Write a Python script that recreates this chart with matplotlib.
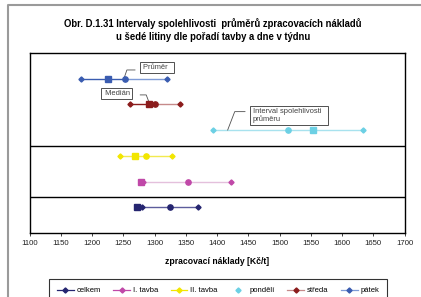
import matplotlib
matplotlib.use("Agg")
import matplotlib.pyplot as plt
from matplotlib.lines import Line2D

plt.rcParams['font.family'] = ['Liberation Sans', 'DejaVu Sans']

# ---- data ----
series = ["celkem", "I. tavba", "II. tavba", "pondělí", "středa", "pátek"]
rows = [1, 2, 3, 4, 5, 6]
lower = [1280, 1282, 1245, 1393, 1261, 1183]
mean = [1325, 1353, 1286, 1514, 1300, 1252]
median = [1272, 1279, 1268, 1554, 1291, 1226]
upper = [1370, 1423, 1328, 1633, 1341, 1320]
xticks = list(range(1100, 1701, 50))
separators = [1.4, 3.4]

# ---- style ----
mk_col = ["#252570", "#c048a8", "#f2e600", "#6cd0e4", "#8b1c1c", "#3a5cb0"]
ln_lo = ["#5c5c9c", "#e4c0dc", "#f2ea50", "#a8e2ee", "#8b1c1c", "#3a5cb0"]
ln_hi = ["#5c5c9c", "#e4c0dc", "#f2ea50", "#a8e2ee", "#c68a8a", "#7f9bd6"]

fig = plt.figure(figsize=(4.21, 2.97), dpi=100)
ax = fig.add_axes([29.5 / 421, 1 - 233 / 297, 375 / 421, 180 / 297])

for i in range(len(series)):
    y = rows[i]
    ax.plot([lower[i], mean[i]], [y, y], color=ln_lo[i], lw=1.0, zorder=2)
    ax.plot([mean[i], upper[i]], [y, y], color=ln_hi[i], lw=1.0, zorder=2)
    ax.plot([lower[i], upper[i]], [y, y], ls="none", marker="D", ms=2.6,
            color=mk_col[i], zorder=3)
    ax.plot([median[i]], [y], ls="none", marker="s", ms=4.0, color=mk_col[i], zorder=4)
    ax.plot([mean[i]], [y], ls="none", marker="o", ms=3.8, color=mk_col[i], zorder=4)

for s in separators:
    ax.axhline(s, color="black", lw=1.0)

ax.set_xlim(1100, 1700)
ax.set_ylim(0, 7)
ax.set_xticks(xticks)
ax.set_xticklabels([str(t) for t in xticks], fontsize=5.6)
ax.set_yticks([])
ax.tick_params(axis="x", direction="out", length=2.5, width=0.6, pad=2.5, colors="#222222")
for sp in ax.spines.values():
    sp.set_color("black")
    sp.set_linewidth(1.0)
ax.set_xlabel("zpracovací náklady [Kč/t]", fontsize=6.2, fontweight="bold", labelpad=7.5)

fig.text(212.8 / 421, 1 - 30 / 297,
         "Obr. D.1.31 Intervaly spolehlivosti  průměrů zpracovacích nákladů\nu šedé litiny dle pořadí tavby a dne v týdnu",
         ha="center", va="center", fontsize=6.85, fontweight="bold", linespacing=1.3)

box = dict(boxstyle="square,pad=0.3", fc="white", ec="#505050", lw=0.7)
tc = "#404040"
afs = 5.4
# Průměr (pátek)
i = 5
ax.annotate("Průměr  ", xy=(mean[i] + 29, rows[i] + 0.44), fontsize=afs, color=tc,
            va="center", ha="left", bbox=box)
ax.annotate("", xy=(mean[i], rows[i] + 0.07), xytext=(mean[i] + 17, rows[i] + 0.34),
            arrowprops=dict(arrowstyle="-", color="#505050", lw=0.6,
                            connectionstyle="angle,angleA=0,angleB=71,rad=0",
                            shrinkA=0, shrinkB=0))
# Medián (středa)
i = 4
ax.annotate(" Medián", xy=(median[i] - 30, rows[i] + 0.43), fontsize=afs, color=tc,
            va="center", ha="right", bbox=box)
ax.annotate("", xy=(median[i], rows[i] + 0.1), xytext=(median[i] - 14, rows[i] + 0.37),
            arrowprops=dict(arrowstyle="-", color="#505050", lw=0.6,
                            connectionstyle="angle,angleA=0,angleB=111,rad=0",
                            shrinkA=0, shrinkB=0))
# Interval (pondělí)
i = 3
ax.annotate("Interval spolehlivosti  \nprůměru", xy=(lower[i] + 64, rows[i] + 0.57), fontsize=afs,
            color=tc, va="center", ha="left", bbox=box, linespacing=1.1)
ax.annotate("", xy=(lower[i] + 24, rows[i]), xytext=(lower[i] + 52, rows[i] + 0.72),
            arrowprops=dict(arrowstyle="-", color="#505050", lw=0.6,
                            connectionstyle="angle,angleA=0,angleB=69,rad=0",
                            shrinkA=0, shrinkB=0))

# legend
handles = []
for i, name in enumerate(series):
    if name == "pondělí":
        handles.append(Line2D([], [], ls="none", marker="D", ms=2.6, color=mk_col[i]))
    else:
        handles.append(Line2D([], [], color=ln_hi[i] if i in (4, 5) else mk_col[i],
                              lw=0.9, marker="D", ms=2.6, mfc=mk_col[i], mec=mk_col[i]))
leg = fig.legend(handles, series, loc="upper left", bbox_to_anchor=(49.3 / 421, 1 - 279.3 / 297),
                 ncol=6, fontsize=5.5, frameon=True, fancybox=False, edgecolor="black",
                 handlelength=2.2, handletextpad=0.35, columnspacing=1.65, borderpad=1.0,
                 borderaxespad=0)
leg.get_frame().set_linewidth(0.8)

# outer chart border (partially visible)
fig.add_artist(Line2D([7.5 / 421, 7.5 / 421, 1], [0, 1 - 5 / 297, 1 - 5 / 297],
                      transform=fig.transFigure, color="#9a9a9a", lw=1.5))

fig.savefig("out.png", dpi=100)
